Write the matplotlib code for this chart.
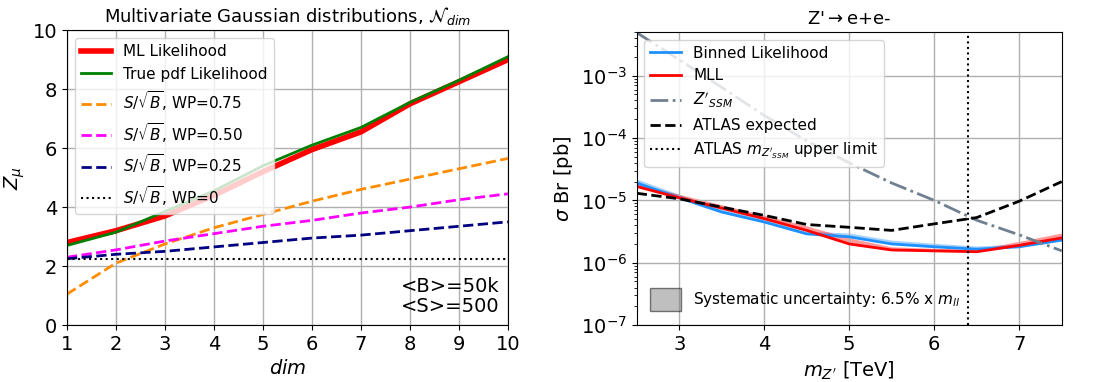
import matplotlib.pyplot as plt
import matplotlib.patches as mpatches
import numpy as np

# left panel data
dims = [1, 2, 3, 4, 5, 6, 7, 8, 9, 10]
z_ml = [2.8, 3.2, 3.7, 4.4, 5.2, 5.95, 6.55, 7.5, 8.25, 9.0]
z_true = [2.7, 3.15, 3.85, 4.55, 5.4, 6.1, 6.7, 7.55, 8.3, 9.1]
z_wp075 = [1.05, 2.1, 2.75, 3.3, 3.75, 4.2, 4.6, 4.95, 5.3, 5.65]
z_wp050 = [2.3, 2.55, 2.85, 3.1, 3.35, 3.55, 3.8, 4.0, 4.25, 4.45]
z_wp025 = [2.25, 2.4, 2.5, 2.65, 2.8, 2.95, 3.05, 3.2, 3.35, 3.5]
z_wp0 = [2.25] * 10

# right panel data
mass = [2.5, 3.0, 3.5, 4.0, 4.5, 5.0, 5.5, 6.0, 6.5, 7.0, 7.5]
binned = [1.9e-5, 1.1e-5, 6.5e-6, 4.5e-6, 2.9e-6, 2.6e-6, 2.0e-6, 1.8e-6, 1.65e-6, 1.8e-6, 2.3e-6]
mll = [1.67e-5, 1.1e-5, 7.5e-6, 5.1e-6, 3.3e-6, 2.0e-6, 1.6e-6, 1.55e-6, 1.5e-6, 1.9e-6, 2.5e-6]
binned_up = [2.2e-5, 1.25e-5, 7.3e-6, 5.0e-6, 3.2e-6, 3.0e-6, 2.3e-6, 2.05e-6, 1.85e-6, 2.0e-6, 2.5e-6]
mll_up = [1.85e-5, 1.25e-5, 8.5e-6, 5.8e-6, 3.9e-6, 2.5e-6, 1.8e-6, 1.7e-6, 1.65e-6, 2.2e-6, 3.0e-6]
ssm = [4.9e-3, 1.8e-3, 6.5e-4, 2.3e-4, 9e-5, 4e-5, 1.9e-5, 1e-5, 4.8e-6, 2.8e-6, 1.55e-6]
atlas_exp = [1.3e-5, 1.06e-5, 7.8e-6, 5.75e-6, 4.1e-6, 3.7e-6, 3.3e-6, 4.2e-6, 5.3e-6, 9.7e-6, 2.0e-5]
atlas_limit = 6.4

fig = plt.figure(figsize=(10.94, 3.82), dpi=100)

# --- left ---
ax = fig.add_axes([0.0612, 0.149, 0.403, 0.772])
ax.plot(dims, z_ml, color='red', lw=4, label='ML Likelihood')
ax.plot(dims, z_true, color='green', lw=2, label='True pdf Likelihood')
ax.plot(dims, z_wp075, color='darkorange', lw=2, ls='--', label=r'$S/\sqrt{B}$, WP=0.75')
ax.plot(dims, z_wp050, color='magenta', lw=2, ls='--', label=r'$S/\sqrt{B}$, WP=0.50')
ax.plot(dims, z_wp025, color='navy', lw=2, ls='--', label=r'$S/\sqrt{B}$, WP=0.25')
ax.plot(dims, z_wp0, color='black', lw=1.5, ls=':', label=r'$S/\sqrt{B}$, WP=0')
ax.set_xlim(1, 10)
ax.set_ylim(0, 10)
ax.set_xticks(dims)
ax.grid(True, color='#b0b0b0', lw=1)
ax.tick_params(labelsize=14)
ax.set_xlabel('$dim$', fontsize=14)
ax.set_ylabel(r'$Z_\mu$', fontsize=14)
ax.set_title(r'Multivariate Gaussian distributions, $\mathcal{N}_{dim}$', fontsize=13)
ax.legend(loc='upper left', fontsize=11)
ax.text(0.98, 0.03, '<B>=50k\n<S>=500', transform=ax.transAxes,
        ha='right', va='bottom', fontsize=14, linespacing=1.1)

# --- right ---
ax2 = fig.add_axes([0.582, 0.149, 0.3885, 0.767])
ax2.fill_between(mass, binned, binned_up, color='dodgerblue', alpha=0.4, lw=0)
ax2.fill_between(mass, mll, mll_up, color='red', alpha=0.4, lw=0)
l1, = ax2.plot(mass, binned, color='dodgerblue', lw=2, label='Binned Likelihood')
l2, = ax2.plot(mass, mll, color='red', lw=2, label='MLL')
l3, = ax2.plot(mass, ssm, color='slategray', lw=2, ls='-.', label=r"$Z'_{SSM}$")
l4, = ax2.plot(mass, atlas_exp, color='black', lw=2, ls='--', label='ATLAS expected')
l5 = ax2.axvline(atlas_limit, color='black', lw=1.5, ls=':', label=r"ATLAS $m_{Z'_{SSM}}$ upper limit")
ax2.set_yscale('log')
ax2.set_xlim(2.5, 7.5)
ax2.set_ylim(1e-7, 5e-3)
ax2.grid(True, which='major', color='#b0b0b0', lw=1)
ax2.tick_params(labelsize=14)
ax2.set_xlabel(r"$m_{Z'}$ [TeV]", fontsize=14)
ax2.set_ylabel(r'$\sigma$ Br [pb]', fontsize=14)
ax2.set_title(r"Z'$\rightarrow$e+e-", fontsize=13)
leg1 = ax2.legend(handles=[l1, l2, l3, l4, l5], loc='upper left', fontsize=11)
ax2.add_artist(leg1)
patch = mpatches.Patch(facecolor='gray', edgecolor='black', alpha=0.5,
                       label=r'Systematic uncertainty: 6.5% x $m_{ll}$')
ax2.legend(handles=[patch], loc='lower left', fontsize=11, frameon=False,
           handlelength=2.0, handleheight=2.0)

fig.savefig('out.png', dpi=100)
